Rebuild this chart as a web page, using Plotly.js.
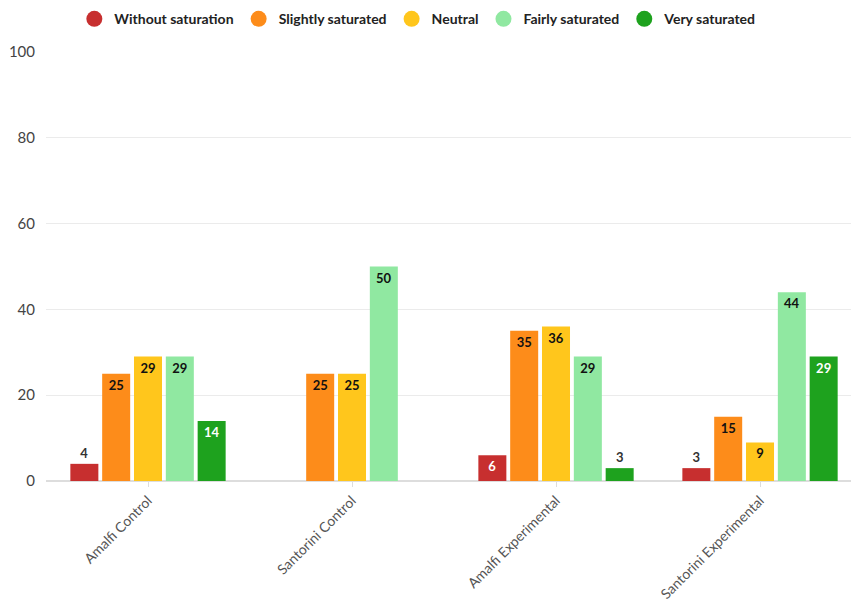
<!DOCTYPE html>
<html><head><meta charset="utf-8">
<script src="https://cdn.plot.ly/plotly-3.0.1.min.js"></script>
<style>html,body{margin:0;padding:0;overflow:hidden;background:#fff}</style>
</head><body><div id="chart" style="width:851px;height:600px"></div>
<script>
const categories = ["Amalfi Control", "Santorini Control", "Amalfi Experimental", "Santorini Experimental"];
const seriesNames = ["Without saturation", "Slightly saturated", "Neutral", "Fairly saturated", "Very saturated"];
const withoutSaturation = [4, 0, 6, 3];
const slightlySaturated = [25, 25, 35, 15];
const neutral = [29, 25, 36, 9];
const fairlySaturated = [29, 50, 29, 44];
const verySaturated = [14, 0, 3, 29];
const yTicks = [0, 20, 40, 60, 80, 100];

const allValues = [withoutSaturation, slightlySaturated, neutral, fairlySaturated, verySaturated];
const colors = ["#c72f2f", "#fd8c1a", "#ffc61c", "#90e8a1", "#1ea21e"];
const insideColors = ["#ffffff", "#111111", "#111111", "#111111", "#ffffff"];
const font = "Lato, 'Source Sans Pro', 'Noto Sans', sans-serif";

const traces = [];
allValues.forEach((vals, i) => {
  traces.push({
    type: "bar", x: categories, y: vals, name: seriesNames[i], showlegend: false,
    marker: {color: colors[i]},
    text: vals.map(v => v > 0 ? String(v) : ""),
    textposition: vals.map(v => v >= 5 ? "inside" : "outside"),
    insidetextanchor: "end",
    textangle: 0,
    cliponaxis: false,
    insidetextfont: {family: font, size: 13, color: insideColors[i], weight: "bold"},
    outsidetextfont: {family: font, size: 13, color: "#333333", weight: "bold"},
    hoverinfo: "x+y+name"
  });
});
seriesNames.forEach((n, i) => {
  traces.push({
    type: "scatter", mode: "markers", x: [null], y: [null], name: n,
    marker: {color: colors[i], size: 16, symbol: "circle"}, hoverinfo: "skip"
  });
});

const layout = {
  width: 851, height: 600,
  margin: {l: 46, r: 0, t: 52, b: 119},
  paper_bgcolor: "#ffffff", plot_bgcolor: "#ffffff",
  font: {family: font, color: "#444444"},
  barmode: "group", bargap: 0.22, bargroupgap: 0.12,
  xaxis: {
    type: "category", range: [-0.5, 3.446],
    tickangle: -45, tickfont: {size: 14, color: "#555555"},
    ticks: "outside", ticklen: 5, tickcolor: "#dddddd",
    showgrid: false, showline: false, zeroline: false
  },
  yaxis: {
    range: [0, 100], tickvals: yTicks, ticktext: yTicks.map(String),
    tickfont: {size: 15, color: "#444444"},
    gridcolor: "#ebebeb", gridwidth: 1,
    zeroline: true, zerolinecolor: "#dddddd", zerolinewidth: 2,
    showline: false, ticks: "", ticklabelstandoff: 10
  },
  legend: {
    orientation: "h", xref: "container", yref: "container",
    x: 0.491, xanchor: "center", y: 0.968, yanchor: "middle",
    font: {family: font, size: 14, color: "#222222", weight: "bold"},
    itemwidth: 30, tracegroupgap: 0
  },
  showlegend: true
};
Plotly.newPlot("chart", traces, layout, {displayModeBar: false, staticPlot: true});
</script></body></html>
